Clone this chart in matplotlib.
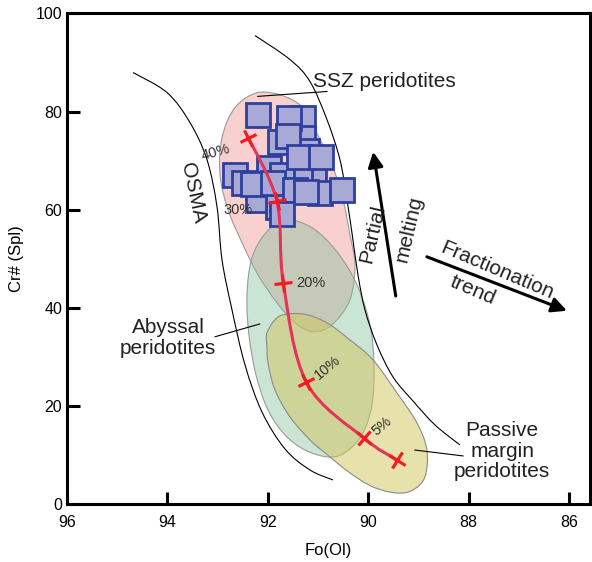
import numpy as np
import matplotlib
matplotlib.use("Agg")
import matplotlib.pyplot as plt
from matplotlib.path import Path
from matplotlib.patches import PathPatch
from matplotlib.markers import MarkerStyle
from matplotlib.transforms import Affine2D

plt.rcParams['font.family'] = ['Liberation Sans', 'DejaVu Sans']

# melting model: olivine Fo vs spinel Cr# at each melting degree
melt_pct = ['40%', '30%', '20%', '10%', '5%', '']
melt_fo = [92.39, 91.82, 91.69, 91.23, 90.08, 89.43]
melt_cr = [74.7, 61.8, 45.0, 24.8, 13.4, 9.0]

# samples (spinel peridotites)
sample_fo = [91.30, 91.29, 91.76, 91.22, 91.08, 91.36, 91.98, 92.20, 91.80, 90.96,
             91.72, 92.20, 91.57, 91.60, 91.38, 90.93, 92.65, 92.47, 92.29, 91.89,
             91.46, 91.24, 90.52, 91.72]
sample_cr = [78.6, 74.6, 73.7, 71.9, 67.3, 67.1, 68.5, 62.0, 60.6, 63.5,
             67.1, 79.4, 78.7, 75.0, 70.7, 70.7, 67.1, 65.5, 65.2, 65.4,
             64.1, 63.7, 64.0, 59.2]

# olivine-spinel mantle array (OSMA) boundaries
osma_left_fo = [94.685, 94.008, 93.550, 93.211, 93.012, 92.912, 92.713, 92.454,
                92.116, 91.657, 91.159, 90.701]
osma_left_cr = [87.96, 83.88, 77.76, 70.20, 60.61, 49.80, 39.59, 28.37,
                18.78, 11.22, 6.94, 4.90]
osma_right_fo = [92.255, 91.558, 91.159, 90.821, 90.562, 90.422, 90.303, 90.203,
                 90.064, 89.825, 89.506, 89.108, 88.669, 88.171]
osma_right_cr = [95.51, 90.61, 86.12, 78.37, 70.20, 62.04, 53.88, 46.73,
                 39.59, 32.45, 25.92, 21.02, 16.12, 12.04]

# peridotite fields
ssz_fo = [92.195, 91.657, 91.259, 91.060, 90.761, 90.522, 90.363, 90.263, 90.363,
          90.721, 91.100, 91.458, 91.817, 92.195, 92.494, 92.793, 92.952, 92.912,
          92.653]
ssz_cr = [83.88, 83.06, 80.41, 76.33, 70.20, 63.06, 54.90, 48.78, 41.63,
          36.53, 35.10, 36.94, 41.02, 46.73, 52.86, 60.00, 67.14, 74.69, 80.82]
aby_fo = [91.657, 91.120, 90.622, 90.223, 89.964, 89.884, 89.924, 90.124, 90.470,
          90.801, 91.259, 91.657, 91.996, 92.235, 92.375, 92.414, 92.315, 92.036]
aby_cr = [57.96, 56.33, 51.43, 44.69, 36.53, 28.37, 20.20, 14.08, 10.41,
          9.59, 11.02, 14.08, 19.18, 26.33, 34.49, 42.65, 50.20, 55.31]
pm_fo = [92.016, 91.817, 91.558, 91.219, 90.821, 90.363, 89.904, 89.426, 89.028,
         88.829, 88.869, 89.108, 89.426, 89.904, 90.363, 90.761, 91.159, 91.558,
         91.857, 91.996, 92.016]
pm_cr = [34.90, 37.96, 38.78, 38.57, 36.94, 33.47, 29.39, 22.65, 16.53,
         11.02, 5.51, 2.86, 2.24, 3.47, 6.33, 9.59, 13.06, 17.76,
         23.27, 28.78, 32.04]


def smooth_path(xs, ys, closed=False):
    # Catmull-Rom knots turned into cubic Bezier segments
    pts = np.column_stack([xs, ys]).astype(float)
    n = len(pts)
    if closed:
        ext = np.vstack([pts[-1], pts, pts[0], pts[1]])
        segs = n
    else:
        ext = np.vstack([pts[0], pts, pts[-1]])
        segs = n - 1
    verts = [ext[1]]
    codes = [Path.MOVETO]
    for i in range(segs):
        p0, p1, p2, p3 = ext[i], ext[i + 1], ext[i + 2], ext[i + 3]
        verts += [p1 + (p2 - p0) / 6, p2 - (p3 - p1) / 6, p2]
        codes += [Path.CURVE4] * 3
    return Path(verts, codes)


fig = plt.figure(figsize=(5.92, 5.62), dpi=100)
ax = fig.add_axes([0.1132, 0.1032, 0.8834, 0.8728])
ax.set_xlim(96, 85.58)
ax.set_ylim(0, 100)

# fields
ax.add_patch(PathPatch(smooth_path(ssz_fo, ssz_cr, True), facecolor='#f9d0d0',
                       edgecolor='#9a9a9a', lw=0.8, zorder=1))
ax.add_patch(PathPatch(smooth_path(aby_fo, aby_cr, True), facecolor=(125/255, 192/255, 150/255, 0.4),
                       edgecolor='#9a9a9a', lw=0.8, zorder=2))
ax.add_patch(PathPatch(smooth_path(pm_fo, pm_cr, True), facecolor=(209/255, 197/255, 91/255, 0.5),
                       edgecolor='#8a8a8a', lw=0.8, zorder=3))

# OSMA boundaries
for xs, ys in [(osma_left_fo, osma_left_cr), (osma_right_fo, osma_right_cr)]:
    ax.add_patch(PathPatch(smooth_path(xs, ys), facecolor='none', edgecolor='black',
                           lw=0.8, zorder=4))

# samples
ax.plot(sample_fo, sample_cr, 's', ms=17, mfc='#a9a9d6', mec='#2e3f9e', mew=2, zorder=5)

# melting curve
ax.add_patch(PathPatch(smooth_path(melt_fo, melt_cr), facecolor='none', edgecolor='#e5335a',
                       lw=2.2, zorder=6, capstyle='round'))
disp = ax.transData.transform(np.column_stack([melt_fo, melt_cr]))
for i in range(len(melt_fo)):
    d = disp[min(i + 1, len(disp) - 1)] - disp[max(i - 1, 0)]
    ang = np.degrees(np.arctan2(d[1], d[0]))
    mk = MarkerStyle('+', transform=Affine2D().rotate_deg(ang))
    ax.plot(melt_fo[i], melt_cr[i], marker=mk, ms=13, mew=2.3, color='#f01e24',
            linestyle='none', zorder=7)

# melting degree labels
pct_style = dict(fontsize=10.5, color='#333333', ha='center', va='center', zorder=8)
ax.text(93.03, 71.6, melt_pct[0], rotation=15, **pct_style)
ax.text(92.59, 60.0, melt_pct[1], **pct_style)
ax.text(91.14, 45.1, melt_pct[2], **pct_style)
ax.text(90.80, 27.8, melt_pct[3], rotation=40, **pct_style)
ax.text(89.73, 15.9, melt_pct[4], rotation=40, **pct_style)

# field labels
lab = dict(fontsize=15, color='#222222')
ax.text(91.10, 85.1, 'SSZ peridotites', ha='left', va='baseline', **lab)
ax.plot([92.20, 90.82], [83.1, 84.1], color='black', lw=0.8, zorder=8)
ax.text(93.99, 33.9, 'Abyssal\nperidotites', ha='center', va='center', linespacing=1.15, **lab)
ax.plot([93.05, 92.16], [34.1, 36.7], color='black', lw=0.8, zorder=8)
ax.text(87.33, 10.8, 'Passive\nmargin\nperidotites', ha='center', va='center',
        linespacing=1.1, **lab)
ax.plot([89.07, 88.11], [11.0, 9.8], color='black', lw=0.8, zorder=8)
ax.text(93.49, 63.5, 'OSMA', rotation=-78, ha='center', va='center', **lab)

# trend arrows
ax.annotate('', xy=(89.90, 71.8), xytext=(89.45, 42.4),
            arrowprops=dict(arrowstyle='-|>,head_length=0.9,head_width=0.45',
                            color='black', lw=2.2, shrinkA=0, shrinkB=0))
ax.text(89.92, 55.0, 'Partial', rotation=77, ha='center', va='center', **lab)
ax.text(89.18, 56.1, 'melting', rotation=77, ha='center', va='center', **lab)
ax.annotate('', xy=(86.04, 39.4), xytext=(88.83, 50.4),
            arrowprops=dict(arrowstyle='-|>,head_length=0.9,head_width=0.45',
                            color='black', lw=2.2, shrinkA=0, shrinkB=0))
ax.text(87.43, 47.6, 'Fractionation', rotation=-23, ha='center', va='center', **lab)
ax.text(87.91, 43.6, 'trend', rotation=-23, ha='center', va='center', **lab)

# axes
ax.set_xticks([96, 94, 92, 90, 88, 86])
ax.set_yticks([0, 20, 40, 60, 80, 100])
ax.tick_params(direction='in', length=9, width=2.2, labelsize=11.5, colors='black')
ax.tick_params(axis='x', pad=8)
ax.tick_params(axis='y', pad=3.5)
for s in ax.spines.values():
    s.set_linewidth(2.2)
ax.set_xlabel('Fo(Ol)', fontsize=12, labelpad=9)
ax.set_ylabel('Cr# (Spl)', fontsize=12, labelpad=8)

fig.savefig('out.png', dpi=100)
